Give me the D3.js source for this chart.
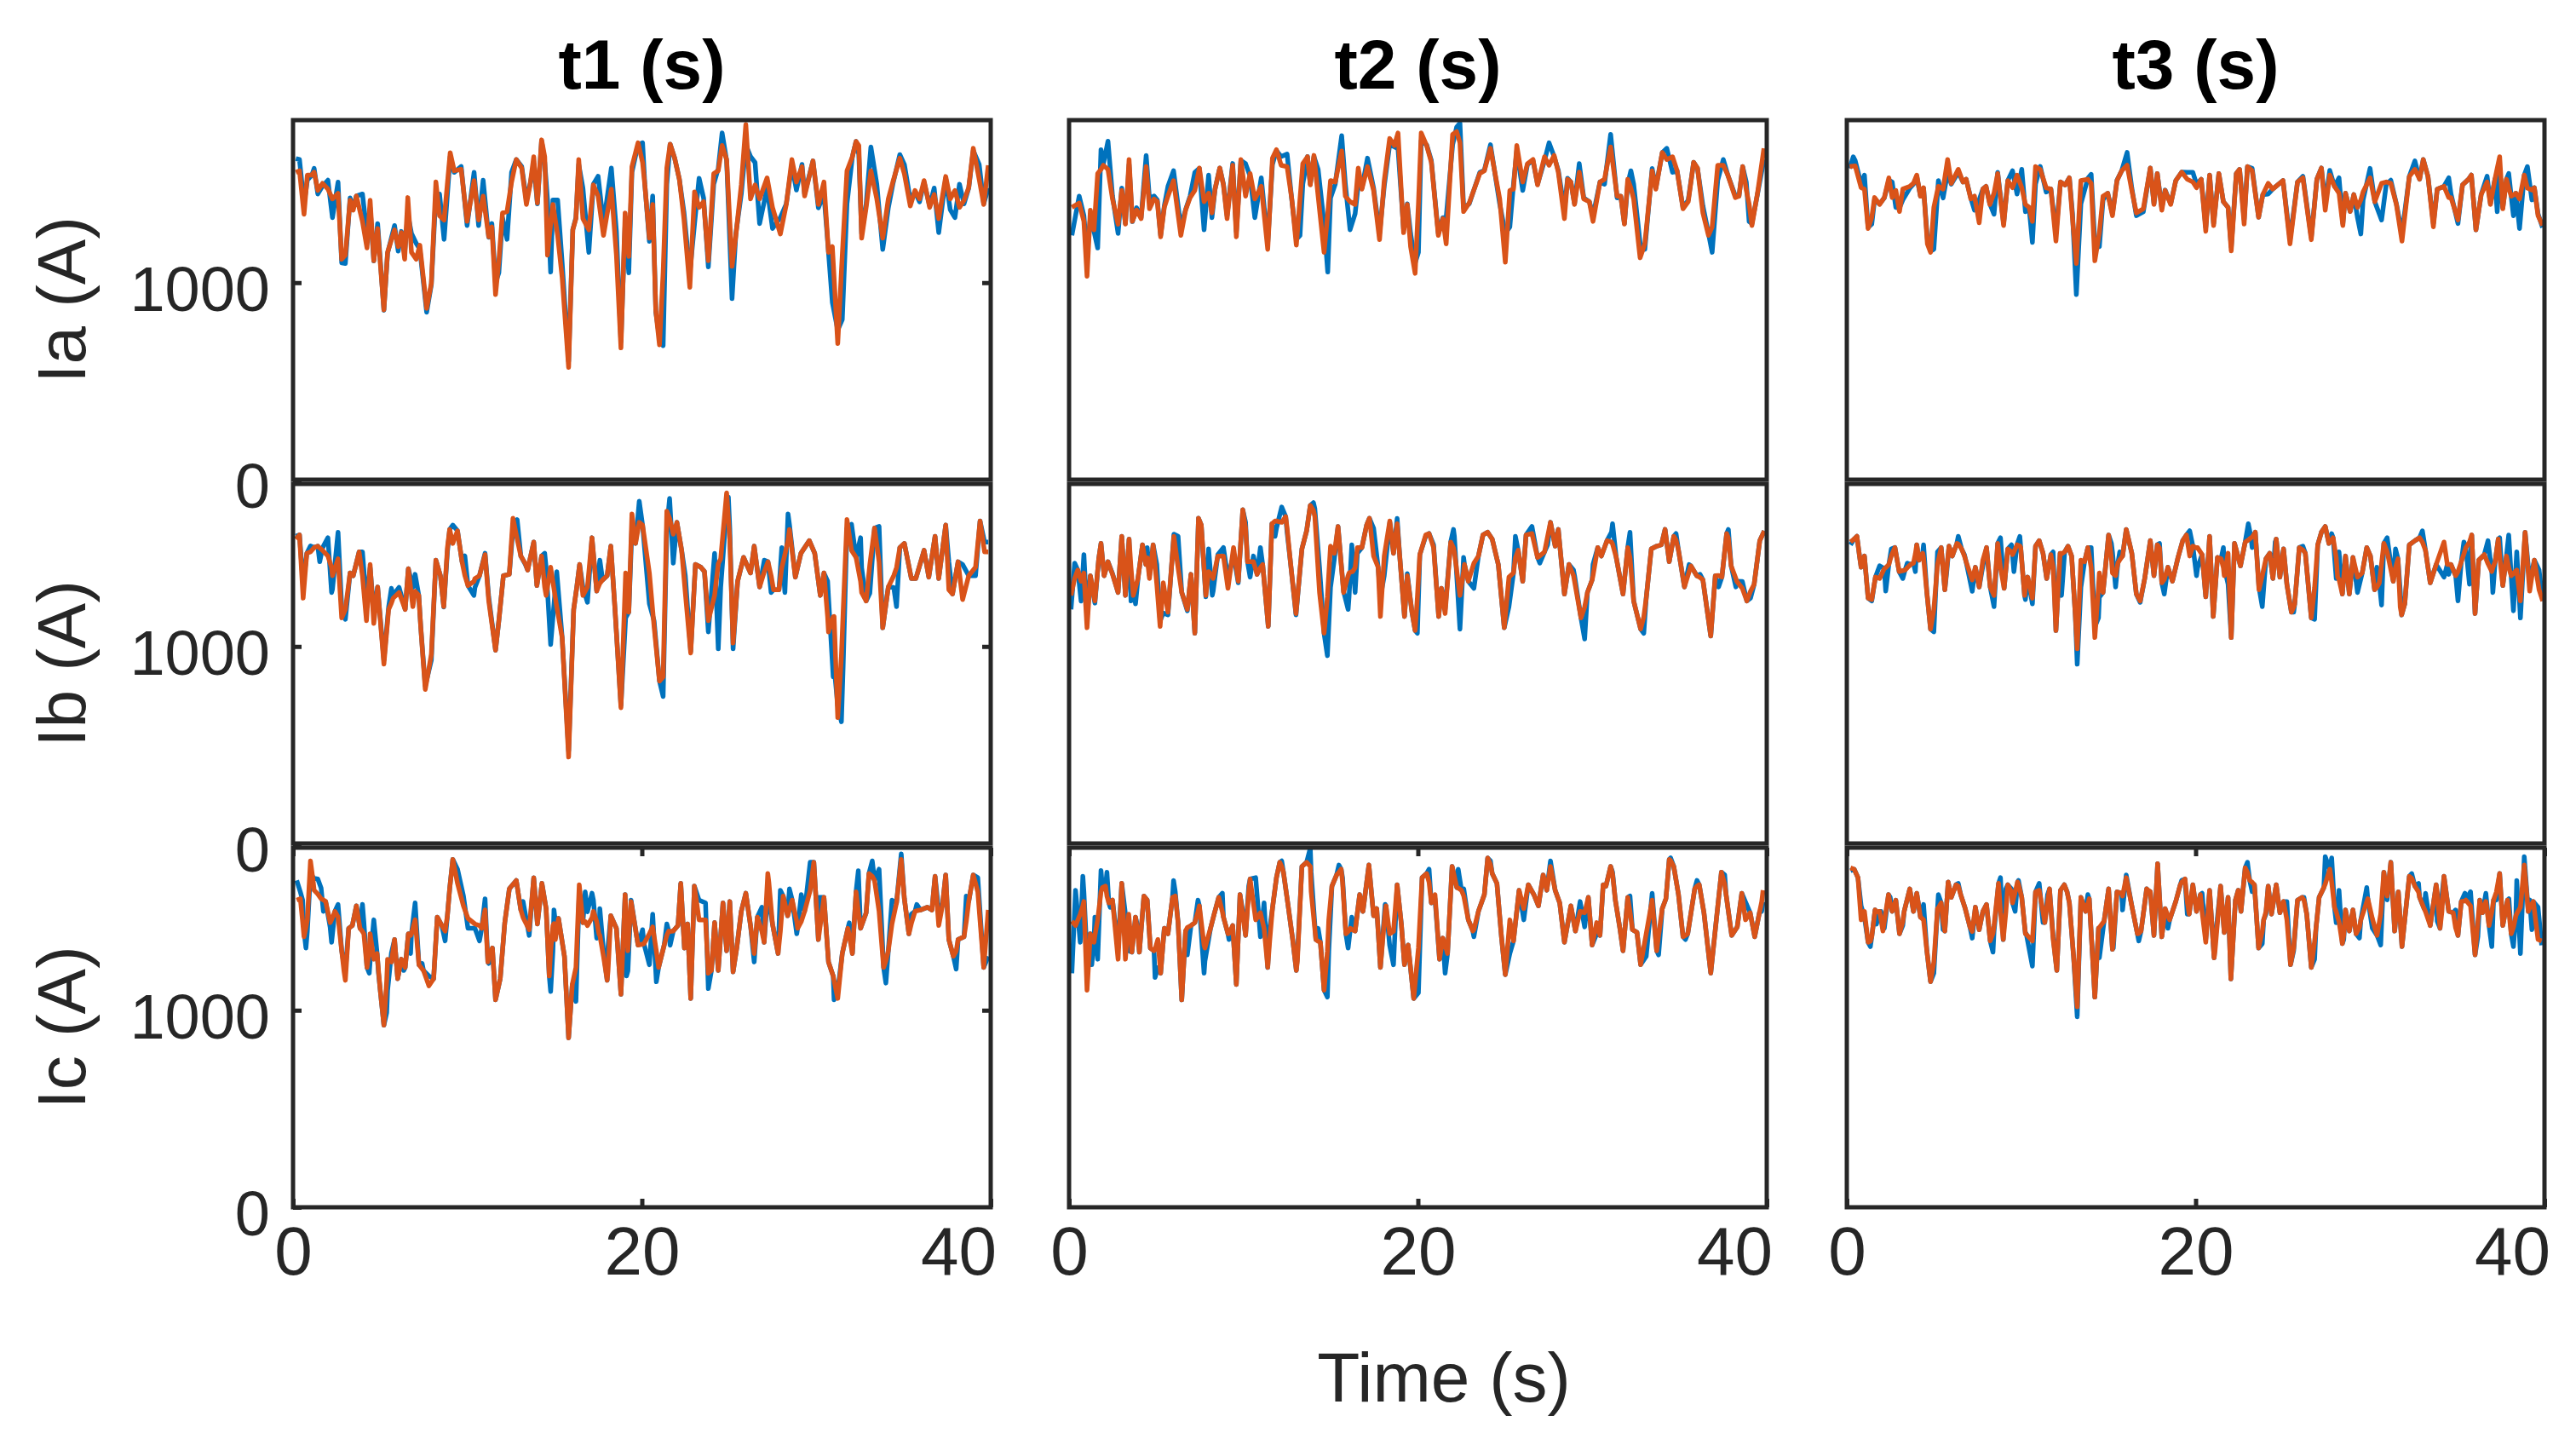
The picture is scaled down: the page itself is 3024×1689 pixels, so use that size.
<!DOCTYPE html>
<html>
<head>
<meta charset="utf-8">
<script src="https://cdn.jsdelivr.net/npm/d3@7"></script>
<style>
  html, body { margin: 0; padding: 0; background: #fff; }
  svg { display: block; }
  text { font-family: "Liberation Sans", Arial, Helvetica, sans-serif; }
</style>
</head>
<body>
<svg id="chart" width="3024" height="1689"></svg>
<script>
// phase currents, three test runs; blue = measured, orange = estimated

var ia1Time = [0.16,0.37,0.63,0.82,1.08,1.21,1.42,1.69,2.00,2.26,
  2.58,2.79,3.00,3.27,3.45,3.63,3.98,4.24,4.42,4.63,
  4.85,5.21,5.42,5.82,6.03,6.21,6.40,6.58,6.79,7.06,
  7.27,7.66,7.93,8.19,8.40,8.66,9.01,9.24,9.64,9.98,
  10.38,10.64,10.90,11.22,11.40,11.61,11.80,12.01,12.27,12.53,
  12.80,13.11,13.38,13.59,13.80,14.01,14.25,14.43,14.59,14.77,
  14.90,15.17,15.43,15.80,16.04,16.22,16.38,16.62,16.96,17.22,
  17.49,17.80,18.25,18.54,18.80,19.04,19.25,19.43,19.78,20.04,
  20.17,20.43,20.62,20.80,21.01,21.22,21.43,21.62,21.88,22.15,
  22.41,22.75,23.02,23.28,23.54,23.81,24.12,24.38,24.60,24.86,
  25.17,25.39,25.70,25.96,26.23,26.49,26.75,27.18,27.49,27.94,
  28.28,28.60,28.86,29.18,29.33,29.81,30.12,30.44,30.70,30.92,
  31.23,31.49,31.76,32.07,32.28,32.44,32.60,32.86,33.13,33.47,
  33.81,34.13,34.39,34.79,35.05,35.39,35.66,35.92,36.18,36.50,
  36.76,37.02,37.42,37.68,37.95,38.21,38.47,38.74,39.00,39.34,
  39.60,39.86];
var ia1Blue = [1630,1625,1400,1520,1546,1580,1450,1490,1520,1330,
  1510,1100,1097,1430,1380,1440,1450,1250,1380,1110,
  1300,860,1150,1290,1160,1260,1150,1350,1250,1200,
  1170,850,990,1450,1450,1220,1640,1560,1590,1290,
  1560,1290,1520,1230,1300,1000,1050,1330,1220,1560,
  1625,1590,1420,1500,1600,1400,1720,1610,1420,1054,
  1420,1420,1100,600,1270,1330,1600,1480,1154,1500,
  1540,1300,1582,1260,700,1300,1050,1560,1700,1710,
  1500,1210,1440,850,720,680,1500,1703,1632,1525,
  1360,1050,1300,1530,1430,1080,1500,1580,1760,1620,
  919,1250,1450,1700,1640,1610,1300,1480,1275,1330,
  1400,1600,1470,1600,1450,1618,1380,1450,1154,900,
  760,812,1400,1640,1717,1650,1250,1400,1689,1500,
  1169,1380,1500,1650,1600,1420,1460,1410,1510,1390,
  1480,1254,1530,1370,1330,1500,1400,1480,1670,1600,
  1400,1480];
var ia1Orange = [1560,1568,1347,1546,1546,1561,1468,1504,1475,1425,
  1453,1119,1140,1418,1368,1440,1311,1176,1418,1111,
  1275,862,1154,1268,1183,1254,1119,1432,1154,1119,
  1190,869,997,1511,1340,1318,1660,1568,1575,1311,
  1518,1318,1439,1233,1283,940,1111,1354,1361,1511,
  1625,1582,1397,1496,1639,1404,1725,1639,1140,1300,
  1397,1240,1026,570,1268,1325,1625,1325,1268,1496,
  1440,1240,1475,1140,669,1354,1133,1589,1710,1610,
  1496,1226,1397,855,684,1054,1582,1703,1632,1525,
  1325,976,1461,1382,1411,1111,1553,1568,1696,1625,
  1083,1240,1496,1803,1425,1496,1425,1532,1382,1247,
  1397,1625,1511,1589,1440,1618,1397,1511,1154,1183,
  691,1140,1568,1639,1717,1696,1226,1382,1568,1425,
  1226,1425,1511,1632,1553,1389,1468,1425,1518,1382,
  1447,1325,1539,1425,1468,1382,1418,1482,1682,1525,
  1397,1596];

var ia2Time = [0.16,0.58,0.85,1.03,1.22,1.43,1.64,1.83,1.96,2.23,
  2.49,2.81,3.02,3.23,3.44,3.63,3.87,4.13,4.42,4.61,
  4.87,5.06,5.25,5.46,5.67,5.99,6.41,6.68,6.94,7.21,
  7.47,7.74,8.00,8.19,8.37,8.64,8.85,9.06,9.38,9.59,
  9.85,10.12,10.38,10.65,11.02,11.39,11.66,11.89,12.16,12.50,
  12.77,13.03,13.24,13.40,13.67,13.83,14.04,14.28,14.62,14.83,
  14.99,15.26,15.63,15.84,16.11,16.40,16.58,16.79,17.11,17.46,
  17.80,18.07,18.38,18.65,18.86,19.18,19.39,19.58,19.84,20.03,
  20.19,20.50,20.77,21.17,21.43,21.62,21.99,22.22,22.41,22.62,
  22.94,23.55,23.81,24.16,24.69,25.01,25.27,25.48,25.67,26.01,
  26.28,26.60,26.86,27.26,27.52,27.81,28.05,28.40,28.58,28.77,
  28.98,29.25,29.51,29.83,30.04,30.44,30.70,31.05,31.42,31.63,
  31.84,32.03,32.21,32.37,32.74,33.01,33.43,33.64,34.01,34.27,
  34.60,34.86,35.20,35.50,35.81,36.03,36.34,36.66,36.87,37.19,
  37.51,37.77,38.20,38.41,38.62,38.83,38.99,39.15,39.47,39.84];
var ia2Blue = [1240,1439,1340,1140,1330,1260,1176,1675,1600,1718,
  1440,1250,1480,1300,1600,1310,1380,1330,1646,1425,
  1440,1420,1240,1390,1489,1568,1283,1370,1440,1560,
  1580,1268,1546,1330,1475,1582,1500,1340,1605,1260,
  1620,1604,1540,1330,1532,1200,1600,1670,1640,1653,
  1420,1220,1240,1500,1640,1500,1640,1575,1300,1054,
  1430,1500,1746,1500,1268,1350,1500,1480,1632,1480,
  1250,1490,1700,1690,1680,1270,1400,1250,1100,1154,
  1720,1700,1620,1250,1330,1330,1700,1789,1810,1380,
  1400,1560,1570,1700,1400,1250,1283,1500,1670,1468,
  1600,1620,1500,1620,1710,1640,1570,1370,1530,1511,
  1400,1604,1430,1411,1340,1511,1500,1753,1430,1439,
  1300,1500,1568,1500,1200,1169,1580,1480,1660,1682,
  1560,1568,1380,1420,1611,1580,1390,1250,1154,1520,
  1625,1546,1440,1439,1589,1510,1310,1300,1450,1625];
var ia2Orange = [1382,1404,1311,1033,1368,1268,1554,1575,1596,1575,
  1425,1297,1468,1297,1625,1311,1368,1325,1589,1375,
  1425,1411,1233,1382,1439,1518,1240,1368,1432,1468,
  1582,1411,1454,1354,1475,1582,1496,1325,1596,1233,
  1625,1439,1554,1425,1489,1169,1632,1675,1596,1589,
  1425,1190,1425,1604,1639,1496,1646,1439,1154,1350,
  1518,1511,1668,1439,1411,1397,1582,1475,1589,1468,
  1218,1518,1732,1696,1760,1254,1397,1183,1047,1400,
  1760,1696,1611,1240,1325,1197,1753,1767,1710,1361,
  1404,1554,1568,1682,1425,1104,1468,1475,1696,1511,
  1604,1625,1496,1639,1596,1646,1561,1325,1525,1511,
  1397,1561,1425,1411,1311,1511,1525,1689,1439,1439,
  1297,1525,1480,1425,1126,1197,1568,1475,1661,1625,
  1639,1568,1375,1411,1611,1582,1354,1240,1283,1596,
  1596,1546,1432,1439,1589,1468,1400,1290,1454,1682];

var ia3Time = [0.16,0.37,0.48,0.82,1.01,1.22,1.43,1.59,1.88,2.15,
  2.41,2.60,2.81,3.02,3.21,3.61,3.82,4.01,4.22,4.40,
  4.62,4.80,4.99,5.25,5.52,5.78,5.99,6.39,6.66,6.84,
  7.11,7.32,7.59,7.80,7.98,8.20,8.44,8.65,8.99,9.23,
  9.50,9.76,10.03,10.24,10.45,10.64,10.82,11.09,11.43,11.70,
  11.99,12.25,12.52,12.76,12.94,13.16,13.42,13.82,14.01,14.22,
  14.48,14.69,14.96,15.23,15.49,15.76,16.07,16.34,16.60,17.00,
  17.40,17.61,17.80,18.06,18.25,18.57,18.86,19.20,19.52,19.84,
  20.05,20.32,20.58,20.80,21.03,21.33,21.59,21.86,22.04,22.33,
  22.52,22.78,22.97,23.24,23.61,23.85,24.16,24.42,24.70,25.01,
  25.41,25.84,26.15,26.63,26.95,27.21,27.43,27.69,27.96,28.22,
  28.44,28.59,28.86,29.07,29.28,29.47,29.60,30.00,30.27,30.66,
  30.93,31.19,31.51,31.83,32.25,32.57,32.84,33.05,33.32,33.63,
  33.85,34.24,34.51,34.64,35.04,35.30,35.65,35.81,36.07,36.37,
  36.71,36.90,37.16,37.29,37.43,37.61,37.82,37.95,38.09,38.22,
  38.36,38.57,38.84,39.02,39.28,39.42,39.63,39.89];
var ia3Blue = [1580,1639,1620,1500,1546,1280,1297,1420,1400,1430,
  1520,1511,1382,1380,1420,1480,1500,1540,1440,1480,
  1220,1160,1169,1518,1430,1560,1500,1560,1511,1525,
  1430,1368,1420,1475,1489,1400,1347,1560,1300,1518,
  1568,1450,1575,1360,1382,1204,1500,1590,1460,1475,
  1250,1511,1496,1532,1350,940,1400,1530,1550,1200,
  1183,1420,1454,1350,1520,1568,1661,1480,1340,1360,
  1582,1400,1554,1380,1470,1400,1518,1561,1560,1560,
  1500,1525,1280,1546,1300,1554,1411,1382,1180,1554,
  1575,1320,1589,1580,1332,1447,1450,1475,1496,1518,
  1220,1511,1540,1230,1525,1582,1400,1570,1489,1532,
  1300,1454,1361,1447,1330,1247,1420,1580,1411,1318,
  1500,1520,1400,1250,1539,1618,1525,1625,1539,1300,
  1475,1489,1532,1450,1300,1496,1525,1546,1268,1447,
  1540,1400,1525,1360,1580,1380,1525,1554,1440,1340,
  1454,1275,1546,1589,1420,1482,1350,1280];
var ia3Orange = [1589,1592,1593,1482,1475,1275,1330,1432,1397,1432,
  1532,1432,1468,1361,1475,1489,1504,1546,1439,1482,
  1197,1154,1382,1489,1475,1625,1504,1575,1511,1525,
  1425,1439,1304,1475,1489,1397,1454,1554,1290,1518,
  1482,1546,1482,1397,1382,1311,1589,1575,1482,1475,
  1211,1511,1496,1532,1325,1097,1518,1525,1504,1111,
  1254,1439,1454,1340,1518,1568,1596,1468,1354,1375,
  1582,1397,1554,1368,1468,1397,1518,1561,1525,1511,
  1482,1525,1261,1546,1290,1554,1411,1382,1161,1554,
  1575,1297,1589,1568,1332,1447,1504,1475,1496,1518,
  1197,1511,1532,1218,1525,1582,1368,1546,1489,1454,
  1290,1454,1361,1447,1382,1420,1461,1532,1411,1504,
  1511,1504,1397,1211,1539,1575,1525,1625,1539,1283,
  1475,1489,1432,1432,1318,1496,1525,1546,1268,1447,
  1511,1397,1525,1580,1639,1375,1525,1480,1439,1445,
  1454,1425,1546,1480,1470,1482,1340,1290];

var ib1Time = [0.16,0.37,0.58,0.79,1.00,1.21,1.42,1.53,1.69,2.00,
  2.21,2.26,2.58,2.79,3.00,3.27,3.45,3.79,3.98,4.21,
  4.42,4.63,4.85,5.21,5.48,5.64,5.74,6.08,6.43,6.61,
  6.87,7.00,7.21,7.32,7.58,7.93,8.19,8.45,8.64,8.85,
  8.98,9.16,9.43,9.69,9.85,10.03,10.37,10.43,10.69,11.01,
  11.22,11.61,11.80,12.06,12.40,12.61,12.85,13.06,13.32,13.45,
  13.80,13.98,14.25,14.43,14.51,14.77,15.12,15.43,15.80,16.09,
  16.27,16.43,16.62,16.88,17.14,17.41,17.59,17.75,18.01,18.22,
  18.46,18.80,19.07,19.25,19.43,19.64,19.85,20.04,20.43,20.70,
  21.01,21.22,21.43,21.59,21.80,22.01,22.28,22.49,22.80,23.07,
  23.38,23.59,23.81,24.17,24.38,24.52,24.86,24.96,25.04,25.23,
  25.49,25.83,26.23,26.44,26.75,27.02,27.23,27.41,27.55,27.86,
  28.02,28.20,28.38,28.46,28.80,29.12,29.60,29.91,30.23,30.44,
  30.65,30.70,30.97,31.02,31.23,31.44,31.54,31.76,32.02,32.28,
  32.54,32.60,32.86,33.07,33.34,33.60,33.81,34.13,34.44,34.60,
  34.79,35.05,35.45,35.71,36.18,36.45,36.81,37.02,37.42,37.60,
  37.81,38.13,38.39,38.74,39.13,39.39,39.65,39.86];
var ib1Blue = [1560,1566,1316,1473,1510,1502,1509,1430,1500,1552,
  1274,1290,1580,1200,1138,1373,1359,1480,1480,1220,
  1400,1174,1302,930,1200,1295,1260,1300,1188,1395,
  1300,1366,1259,1102,800,930,1438,1359,1200,1480,
  1594,1616,1587,1430,1460,1309,1259,1300,1359,1473,
  1250,981,1131,1359,1366,1600,1644,1459,1416,1388,
  1530,1309,1459,1473,1400,1010,1380,1045,470,1188,
  1302,1416,1300,1224,1552,1281,1438,1338,1359,1509,
  1188,700,1145,1174,1600,1523,1737,1616,1217,1130,
  824,746,1600,1751,1423,1630,1488,1359,975,1416,
  1402,1380,1074,1473,988,1300,1700,1758,1600,988,
  1331,1452,1373,1509,1302,1438,1430,1274,1288,1288,
  1502,1274,1673,1620,1352,1473,1537,1473,1259,1373,
  1331,1250,846,900,700,618,900,1600,1620,1452,
  1552,1400,1231,1270,1601,1609,1095,1302,1300,1202,
  1502,1523,1345,1345,1488,1352,1559,1345,1616,1430,
  1266,1430,1416,1359,1359,1637,1530,1530];
var ib1Orange = [1545,1566,1245,1473,1480,1502,1509,1500,1488,1459,
  1400,1359,1445,1145,1188,1373,1359,1480,1359,1131,
  1416,1117,1302,910,1188,1220,1245,1274,1188,1395,
  1202,1280,1259,1100,782,960,1438,1359,1202,1500,
  1594,1523,1587,1430,1360,1309,1330,1345,1359,1466,
  1231,981,1131,1359,1366,1651,1545,1459,1420,1388,
  1530,1309,1459,1300,1259,1402,1202,1045,439,1188,
  1302,1416,1259,1302,1552,1281,1320,1338,1359,1509,
  1188,689,1373,1174,1673,1523,1630,1616,1373,1102,
  824,846,1687,1650,1570,1630,1488,1274,967,1416,
  1402,1380,1131,1259,1420,1445,1780,1650,1545,1017,
  1331,1452,1373,1509,1302,1380,1430,1360,1288,1288,
  1400,1466,1540,1594,1352,1473,1537,1473,1259,1373,
  1150,1074,1150,1152,639,950,1174,1644,1488,1452,
  1330,1274,1231,1416,1601,1430,1095,1302,1359,1400,
  1502,1523,1345,1345,1488,1352,1559,1345,1616,1288,
  1266,1430,1238,1359,1402,1637,1480,1480];

var ib2Time = [0.11,0.32,0.50,0.69,0.85,1.03,1.22,1.48,1.70,1.83,
  2.01,2.23,2.49,2.81,3.02,3.23,3.44,3.55,3.68,3.81,
  3.95,4.21,4.40,4.48,4.61,4.82,5.03,5.22,5.40,5.67,
  6.01,6.25,6.46,6.78,6.99,7.21,7.42,7.58,7.84,8.00,
  8.21,8.26,8.53,8.85,9.11,9.43,9.70,9.96,10.12,10.23,
  10.38,10.57,10.78,10.97,11.10,11.42,11.63,11.81,11.89,12.19,
  12.42,12.50,12.69,13.01,13.35,13.62,13.83,14.01,14.09,14.36,
  14.62,14.81,14.99,15.21,15.42,15.74,16.00,16.05,16.21,16.26,
  16.40,16.53,16.79,17.06,17.22,17.46,17.72,17.85,18.07,18.39,
  18.60,18.81,18.97,19.23,19.39,19.66,19.84,19.97,20.11,20.45,
  20.64,20.90,21.19,21.35,21.56,21.88,22.04,22.09,22.41,22.62,
  22.67,22.89,23.21,23.47,23.73,24.00,24.26,24.61,24.95,25.22,
  25.48,25.59,25.75,26.01,26.20,26.54,26.86,26.99,27.26,27.44,
  27.60,27.87,27.92,28.05,28.40,28.66,28.92,28.98,29.35,29.56,
  29.72,29.99,30.04,30.31,30.52,30.84,31.10,31.16,31.37,31.76,
  32.03,32.16,32.37,32.77,32.95,33.09,33.38,33.69,33.96,34.17,
  34.41,34.67,34.80,34.94,35.28,35.55,35.65,35.99,36.18,36.34,
  36.79,37.05,37.24,37.43,37.70,37.80,37.96,38.23,38.28,38.60,
  38.86,39.07,39.28,39.60,39.86];
var ib2Blue = [1188,1423,1388,1230,1466,1150,1359,1220,1445,1523,
  1359,1430,1370,1274,1559,1259,1545,1231,1300,1216,
  1345,1516,1416,1502,1360,1516,1416,1130,1170,1160,
  1570,1559,1274,1181,1366,1067,1651,1616,1252,1495,
  1260,1280,1466,1502,1345,1466,1323,1694,1630,1430,
  1352,1459,1366,1502,1416,1102,1623,1559,1600,1708,
  1659,1580,1430,1160,1495,1587,1716,1730,1700,1400,
  1067,953,1300,1445,1609,1280,1188,1250,1516,1450,
  1274,1473,1502,1616,1651,1600,1402,1250,1359,1630,
  1473,1650,1445,1152,1370,1174,1081,1067,1466,1560,
  1573,1516,1152,1295,1188,1530,1594,1560,1088,1452,
  1416,1331,1295,1459,1566,1580,1545,1416,1095,1202,
  1373,1559,1488,1331,1566,1609,1452,1423,1480,1516,
  1630,1509,1552,1594,1266,1416,1388,1360,1145,1038,
  1274,1338,1416,1502,1459,1537,1580,1623,1452,1266,
  1502,1580,1231,1088,1067,1245,1495,1509,1516,1594,
  1430,1559,1573,1488,1302,1416,1409,1359,1366,1338,
  1053,1359,1302,1352,1573,1594,1409,1302,1331,1330,
  1231,1245,1316,1537,1587];
var ib2Orange = [1259,1345,1388,1331,1373,1095,1359,1231,1445,1523,
  1359,1430,1366,1274,1559,1259,1545,1400,1259,1300,
  1345,1516,1416,1450,1345,1516,1316,1102,1323,1174,
  1559,1400,1274,1188,1366,1067,1651,1616,1259,1380,
  1360,1345,1459,1459,1295,1502,1331,1694,1600,1430,
  1430,1430,1366,1400,1416,1102,1623,1637,1637,1630,
  1659,1600,1430,1167,1495,1587,1716,1690,1659,1274,
  1067,1250,1509,1473,1609,1274,1360,1373,1380,1380,
  1400,1502,1502,1616,1651,1459,1402,1152,1459,1637,
  1473,1623,1445,1152,1359,1174,1081,1250,1466,1566,
  1573,1502,1152,1295,1167,1530,1500,1480,1259,1380,
  1416,1331,1423,1459,1566,1580,1545,1416,1095,1352,
  1373,1450,1488,1331,1566,1573,1452,1460,1480,1560,
  1630,1509,1530,1594,1266,1416,1360,1331,1145,1200,
  1274,1338,1360,1502,1459,1537,1530,1520,1452,1266,
  1502,1450,1231,1088,1150,1245,1495,1509,1516,1594,
  1430,1559,1540,1488,1302,1380,1409,1359,1350,1338,
  1053,1359,1360,1352,1573,1550,1409,1345,1331,1295,
  1231,1280,1316,1537,1587];

var ib3Time = [0.21,0.42,0.58,0.74,0.82,1.01,1.22,1.43,1.64,1.88,
  2.15,2.23,2.41,2.55,2.76,3.00,3.21,3.34,3.47,3.66,
  3.82,3.93,4.01,4.14,4.35,4.40,4.59,4.80,4.99,5.20,
  5.41,5.62,5.73,5.86,6.05,6.31,6.39,6.58,6.74,6.84,
  7.19,7.37,7.59,7.80,8.01,8.22,8.44,8.65,8.81,9.02,
  9.23,9.44,9.50,9.58,9.76,9.92,9.97,10.19,10.24,10.37,
  10.64,10.82,11.03,11.25,11.46,11.70,11.83,11.99,12.23,12.31,
  12.49,12.68,12.89,13.10,13.21,13.42,13.63,13.82,14.01,14.22,
  14.43,14.48,14.69,15.01,15.17,15.23,15.41,15.54,15.65,15.81,
  16.02,16.34,16.60,16.82,17.08,17.40,17.61,17.80,17.93,18.06,
  18.20,18.41,18.67,18.99,19.26,19.47,19.66,19.84,20.05,20.11,
  20.37,20.58,20.80,21.01,21.25,21.46,21.59,21.64,21.86,22.04,
  22.23,22.57,22.84,23.02,23.18,23.24,23.42,23.63,23.82,24.03,
  24.25,24.43,24.56,24.62,24.83,25.04,25.23,25.49,25.62,25.68,
  25.94,26.15,26.29,26.63,26.82,27.00,27.21,27.43,27.64,27.80,
  27.88,28.06,28.14,28.22,28.41,28.59,28.81,29.02,29.28,29.55,
  29.81,30.02,30.26,30.39,30.53,30.66,30.79,30.98,31.33,31.46,
  31.60,31.73,31.81,31.99,32.25,32.57,32.84,33.00,33.18,33.45,
  33.79,34.24,34.43,34.51,34.64,34.91,35.04,35.23,35.38,35.49,
  35.70,35.83,36.02,36.23,36.55,36.76,36.98,37.04,37.17,37.35,
  37.43,37.61,37.82,37.95,38.09,38.22,38.41,38.62,38.89,39.15,
  39.42,39.69,39.90];
var ib3Blue = [1516,1545,1559,1452,1402,1459,1245,1231,1352,1409,
  1395,1281,1416,1495,1502,1380,1345,1388,1423,1416,
  1423,1380,1516,1438,1473,1516,1274,1088,1074,1480,
  1502,1288,1380,1509,1459,1523,1559,1495,1466,1430,
  1280,1402,1302,1409,1502,1302,1202,1523,1552,1295,
  1495,1516,1466,1380,1516,1559,1502,1259,1238,1352,
  1216,1509,1537,1473,1345,1466,1480,1081,1473,1259,
  1480,1509,1459,1160,910,1300,1430,1502,1502,1100,
  1145,1250,1274,1566,1523,1480,1302,1423,1480,1459,
  1594,1473,1266,1224,1345,1537,1359,1516,1523,1323,
  1266,1402,1331,1452,1537,1566,1587,1509,1359,1400,
  1466,1252,1559,1152,1452,1445,1502,1400,1316,1045,
  1523,1409,1530,1623,1552,1502,1580,1300,1202,1445,
  1473,1345,1530,1545,1352,1495,1316,1174,1174,1216,
  1502,1509,1473,1145,1138,1516,1580,1609,1523,1573,
  1552,1345,1352,1480,1266,1459,1266,1452,1274,1373,
  1502,1459,1288,1402,1323,1210,1523,1552,1331,1495,
  1445,1281,1160,1216,1516,1537,1552,1587,1487,1323,
  1416,1352,1416,1366,1416,1359,1231,1430,1530,1502,
  1316,1566,1167,1438,1466,1537,1380,1274,1430,1545,
  1552,1309,1459,1566,1359,1181,1480,1145,1580,1330,
  1438,1388,1231];
var ib3Orange = [1530,1545,1559,1450,1402,1459,1245,1238,1352,1345,
  1395,1400,1416,1460,1502,1380,1385,1388,1400,1416,
  1423,1470,1516,1438,1473,1450,1274,1088,1188,1416,
  1502,1288,1400,1509,1459,1523,1520,1495,1460,1430,
  1338,1402,1302,1438,1502,1302,1259,1523,1400,1295,
  1495,1480,1466,1480,1516,1510,1502,1259,1300,1352,
  1245,1509,1537,1473,1345,1466,1400,1081,1473,1470,
  1480,1509,1459,1160,988,1438,1430,1502,1400,1045,
  1300,1373,1274,1566,1450,1373,1360,1423,1440,1459,
  1594,1473,1266,1231,1345,1537,1359,1516,1500,1323,
  1340,1402,1331,1452,1537,1566,1459,1509,1500,1502,
  1466,1252,1559,1152,1452,1445,1400,1359,1473,1045,
  1523,1409,1530,1540,1552,1555,1580,1288,1360,1445,
  1473,1345,1450,1545,1352,1495,1316,1174,1200,1216,
  1502,1490,1473,1145,1300,1516,1580,1609,1523,1540,
  1552,1450,1352,1340,1266,1459,1266,1452,1352,1373,
  1502,1459,1288,1300,1323,1420,1523,1480,1331,1400,
  1445,1200,1160,1216,1516,1537,1552,1530,1487,1323,
  1416,1530,1416,1416,1416,1359,1380,1430,1470,1502,
  1530,1566,1167,1438,1466,1420,1380,1400,1430,1545,
  1460,1309,1459,1400,1359,1370,1388,1231,1580,1281,
  1438,1288,1231];

var ic1Time = [0.21,0.42,0.55,0.63,0.74,0.82,1.00,1.16,1.21,1.42,
  1.61,1.74,1.87,2.13,2.21,2.40,2.58,2.79,2.92,3.00,
  3.19,3.40,3.63,3.84,3.98,4.06,4.24,4.37,4.42,4.63,
  4.82,4.90,5.00,5.21,5.37,5.42,5.64,5.82,6.00,6.21,
  6.35,6.43,6.61,6.74,6.79,7.00,7.22,7.40,7.48,7.79,
  8.06,8.27,8.53,8.72,8.85,8.98,9.16,9.43,9.77,10.03,
  10.43,10.69,10.82,11.01,11.17,11.22,11.43,11.61,11.88,12.14,
  12.40,12.53,12.80,13.06,13.19,13.54,13.80,14.01,14.27,14.51,
  14.69,14.77,14.90,14.96,15.04,15.22,15.56,15.80,16.01,16.22,
  16.41,16.62,16.75,16.88,17.14,17.22,17.41,17.54,17.59,17.80,
  18.01,18.06,18.22,18.54,18.80,19.04,19.12,19.20,19.38,19.78,
  20.04,20.12,20.43,20.62,20.83,20.96,21.28,21.43,21.54,21.62,
  21.80,22.07,22.23,22.44,22.62,22.80,23.01,23.28,23.65,23.81,
  23.99,24.17,24.38,24.65,24.86,25.04,25.23,25.44,25.70,25.96,
  26.23,26.44,26.62,26.88,27.01,27.22,27.28,27.49,27.81,27.94,
  28.10,28.36,28.46,28.62,28.88,28.93,29.14,29.33,29.65,29.86,
  30.12,30.18,30.44,30.70,30.97,31.02,31.23,31.49,31.81,31.89,
  32.07,32.28,32.41,32.54,32.86,33.02,33.21,33.34,33.60,33.86,
  33.99,34.13,34.34,34.60,34.87,35.05,35.31,35.45,35.66,35.76,
  35.97,36.37,36.63,36.81,37.02,37.23,37.42,37.60,37.86,38.02,
  38.13,38.47,38.60,38.74,39.00,39.26,39.60,39.86];
var ic1Blue = [1659,1600,1559,1400,1316,1400,1700,1673,1670,1666,
  1620,1502,1552,1420,1345,1502,1537,1302,1231,1200,
  1416,1430,1530,1416,1537,1450,1217,1188,1250,1459,
  1288,1188,1102,924,988,1100,1290,1359,1160,1259,
  1202,1217,1388,1288,1388,1545,1231,1238,1202,1174,
  1160,1473,1430,1352,1480,1616,1766,1716,1580,1416,
  1416,1352,1416,1566,1245,1238,1316,1053,1160,1445,
  1616,1630,1659,1509,1552,1380,1673,1438,1644,1516,
  1174,1095,1300,1509,1450,1466,1274,860,1131,1045,
  1600,1445,1601,1500,1594,1560,1366,1380,1516,1300,
  1152,1323,1480,1416,1081,1587,1174,1200,1559,1331,
  1409,1338,1231,1488,1145,1217,1331,1438,1402,1330,
  1402,1430,1644,1316,1438,1060,1630,1559,1545,1110,
  1202,1445,1202,1545,1302,1552,1195,1316,1502,1594,
  1430,1245,1473,1523,1345,1600,1559,1438,1288,1609,
  1580,1480,1616,1559,1388,1416,1587,1502,1751,1751,
  1359,1573,1573,1245,1174,1053,1100,1288,1416,1444,
  1288,1601,1708,1416,1495,1694,1758,1659,1716,1217,
  1138,1302,1559,1545,1794,1566,1388,1488,1502,1537,
  1509,1523,1509,1680,1502,1530,1687,1359,1274,1209,
  1359,1373,1580,1552,1687,1673,1217,1274];
var ic1Orange = [1559,1566,1450,1373,1420,1459,1758,1650,1609,1590,
  1566,1560,1552,1445,1460,1502,1473,1302,1200,1152,
  1416,1430,1530,1416,1400,1388,1217,1300,1388,1259,
  1288,1200,1102,924,1150,1259,1245,1359,1160,1259,
  1230,1217,1388,1380,1388,1459,1231,1210,1202,1124,
  1160,1473,1430,1402,1480,1616,1766,1644,1530,1466,
  1438,1430,1416,1509,1245,1270,1316,1053,1160,1445,
  1616,1630,1659,1509,1470,1409,1673,1438,1644,1516,
  1174,1300,1430,1440,1359,1466,1274,860,1131,1217,
  1637,1445,1450,1430,1470,1502,1450,1388,1380,1274,
  1152,1200,1480,1416,1081,1587,1400,1302,1552,1331,
  1335,1338,1388,1423,1300,1217,1331,1380,1402,1400,
  1402,1430,1644,1316,1438,1060,1630,1459,1459,1188,
  1202,1445,1202,1545,1302,1552,1195,1316,1502,1594,
  1430,1288,1473,1400,1345,1694,1650,1438,1288,1400,
  1580,1480,1510,1559,1450,1416,1450,1502,1609,1751,
  1359,1400,1573,1245,1174,1150,1060,1288,1416,1380,
  1288,1601,1500,1416,1495,1694,1680,1659,1502,1217,
  1250,1302,1438,1545,1766,1566,1388,1440,1502,1505,
  1509,1523,1509,1680,1430,1530,1687,1359,1274,1300,
  1359,1373,1450,1552,1687,1601,1217,1509];

var ic2Time = [0.16,0.37,0.64,0.79,0.85,1.03,1.22,1.30,1.43,1.48,
  1.64,1.83,1.91,2.09,2.17,2.28,2.36,2.49,2.81,3.02,
  3.23,3.42,3.60,3.81,3.95,4.03,4.29,4.48,4.66,4.87,
  4.93,5.09,5.25,5.46,5.67,5.93,5.99,6.09,6.25,6.46,
  6.68,6.78,6.99,7.21,7.39,7.47,7.74,7.79,8.11,8.32,
  8.58,8.79,8.85,9.11,9.17,9.38,9.59,9.80,10.01,10.12,
  10.30,10.38,10.70,10.97,11.18,11.39,11.50,11.66,11.89,12.08,
  12.19,12.29,12.56,12.82,13.03,13.09,13.35,13.62,13.83,13.88,
  14.15,14.28,14.41,14.62,14.81,14.89,15.07,15.34,15.47,15.60,
  15.68,15.87,16.00,16.13,16.21,16.40,16.66,16.85,17.19,17.46,
  17.64,17.85,18.12,18.17,18.38,18.60,18.81,19.05,19.23,19.44,
  19.76,20.03,20.24,20.50,20.64,20.77,20.98,21.24,21.43,21.56,
  21.70,21.96,22.23,22.31,22.50,22.63,22.89,23.15,23.21,23.47,
  23.81,24.00,24.16,24.26,24.53,24.79,25.01,25.27,25.48,25.80,
  26.07,26.33,26.65,26.91,27.18,27.39,27.60,27.87,28.13,28.40,
  28.77,29.03,29.30,29.56,29.77,29.99,30.25,30.44,30.62,30.78,
  31.05,31.16,31.32,31.58,31.76,32.03,32.16,32.30,32.56,32.77,
  33.09,33.43,33.69,33.80,34.01,34.22,34.41,34.49,34.67,34.94,
  35.20,35.34,35.47,35.87,36.00,36.13,36.40,36.79,37.06,37.40,
  37.59,37.67,37.99,38.31,38.57,38.78,39.05,39.31,39.58,39.71,
  39.79];
var ic2Blue = [1188,1609,1345,1680,1600,1274,1388,1231,1345,1473,
  1259,1709,1623,1630,1701,1545,1523,1559,1316,1644,
  1488,1302,1295,1473,1416,1295,1580,1559,1316,1302,
  1167,1216,1188,1416,1388,1573,1659,1600,1445,1053,
  1402,1281,1430,1445,1559,1530,1188,1250,1416,1488,
  1573,1594,1473,1388,1359,1430,1131,1587,1473,1380,
  1630,1666,1673,1373,1545,1217,1416,1516,1673,1751,
  1758,1701,1530,1359,1202,1274,1730,1751,1823,1700,
  1359,1416,1345,1102,1067,1300,1630,1687,1737,1716,
  1673,1388,1316,1416,1473,1402,1587,1502,1737,1480,
  1516,1217,1537,1530,1330,1231,1637,1438,1231,1331,
  1060,1089,1673,1694,1716,1545,1566,1259,1366,1188,
  1288,1730,1623,1716,1609,1616,1459,1402,1373,1502,
  1587,1773,1758,1694,1644,1373,1181,1288,1352,1609,
  1459,1637,1587,1530,1687,1609,1758,1609,1545,1345,
  1530,1402,1552,1423,1573,1331,1388,1380,1637,1630,
  1730,1701,1559,1416,1302,1573,1580,1409,1395,1231,
  1274,1594,1302,1281,1516,1566,1766,1773,1730,1587,
  1373,1359,1388,1616,1659,1637,1495,1188,1416,1701,
  1687,1587,1380,1423,1594,1550,1495,1373,1495,1502,
  1550];
var ic2Orange = [1452,1430,1488,1530,1552,1102,1388,1350,1345,1380,
  1459,1600,1623,1630,1580,1545,1550,1559,1259,1644,
  1259,1488,1295,1473,1380,1295,1580,1559,1316,1302,
  1310,1359,1188,1416,1388,1573,1575,1580,1445,1053,
  1402,1420,1430,1445,1500,1530,1330,1316,1416,1488,
  1573,1500,1473,1388,1390,1430,1131,1587,1450,1380,
  1600,1666,1459,1495,1416,1217,1350,1516,1673,1751,
  1730,1701,1530,1359,1202,1250,1730,1751,1730,1602,
  1359,1350,1345,1102,1300,1459,1630,1687,1700,1716,
  1650,1388,1400,1416,1410,1402,1587,1502,1737,1480,
  1516,1217,1500,1530,1388,1400,1637,1438,1231,1331,
  1060,1316,1673,1694,1650,1545,1587,1259,1366,1330,
  1288,1730,1623,1620,1609,1580,1459,1402,1410,1502,
  1587,1773,1740,1694,1644,1373,1181,1459,1352,1609,
  1516,1637,1587,1530,1687,1609,1730,1609,1545,1345,
  1530,1402,1502,1495,1573,1331,1445,1380,1637,1630,
  1730,1690,1559,1416,1302,1573,1500,1409,1395,1231,
  1388,1559,1302,1380,1516,1566,1766,1760,1730,1587,
  1373,1380,1388,1616,1630,1637,1495,1188,1416,1701,
  1640,1587,1380,1423,1594,1459,1495,1373,1495,1550,
  1609];

var ic3Time = [0.21,0.42,0.64,0.82,1.01,1.22,1.35,1.43,1.62,1.70,
  1.88,1.96,2.07,2.15,2.39,2.49,2.60,2.81,3.02,3.21,
  3.29,3.61,3.82,4.01,4.22,4.40,4.59,4.80,4.99,5.20,
  5.25,5.41,5.52,5.62,5.81,5.99,6.26,6.39,6.53,6.79,
  7.06,7.19,7.37,7.59,7.80,8.01,8.22,8.38,8.44,8.70,
  8.81,8.97,9.12,9.23,9.44,9.50,9.65,9.79,9.84,10.03,
  10.24,10.29,10.64,10.82,11.03,11.25,11.35,11.51,11.62,11.83,
  12.04,12.25,12.47,12.63,12.76,13.00,13.21,13.42,13.69,13.82,
  13.90,14.22,14.43,14.48,14.75,15.01,15.23,15.28,15.49,15.76,
  15.81,16.02,16.34,16.66,16.74,16.87,17.19,17.27,17.40,17.61,
  17.82,18.06,18.25,18.41,18.51,18.86,19.12,19.20,19.39,19.52,
  19.63,19.84,20.05,20.27,20.37,20.58,20.80,21.06,21.11,21.43,
  21.64,21.86,22.02,22.28,22.44,22.60,22.84,22.97,23.10,23.24,
  23.37,23.61,23.82,23.90,24.03,24.16,24.35,24.62,24.83,25.04,
  25.23,25.44,25.62,25.84,26.10,26.21,26.37,26.63,26.82,26.90,
  27.08,27.35,27.43,27.69,27.80,27.96,28.06,28.14,28.22,28.41,
  28.49,28.59,28.81,29.02,29.20,29.39,29.47,29.81,29.87,30.13,
  30.40,30.61,30.79,30.98,31.19,31.41,31.62,31.83,32.25,32.39,
  32.57,32.78,32.84,33.10,33.18,33.45,33.79,33.85,34.01,34.12,
  34.24,34.51,34.77,34.90,35.04,35.23,35.44,35.49,35.76,36.02,
  36.18,36.29,36.45,36.64,36.82,36.98,37.08,37.24,37.43,37.61,
  37.88,37.96,38.09,38.22,38.36,38.41,38.62,38.84,39.07,39.15,
  39.28,39.36,39.63,39.84];
var ic3Blue = [1709,1716,1673,1530,1473,1345,1323,1373,1509,1437,
  1502,1502,1416,1416,1587,1573,1502,1559,1388,1430,
  1502,1616,1502,1594,1473,1537,1302,1145,1188,1516,
  1587,1545,1409,1402,1651,1573,1637,1644,1587,1516,
  1423,1366,1523,1409,1502,1537,1352,1295,1400,1644,
  1673,1359,1616,1637,1616,1545,1502,1651,1659,1573,
  1388,1388,1224,1601,1644,1445,1445,1587,1616,1373,
  1202,1609,1637,1602,1545,1274,967,1573,1502,1587,
  1566,1067,1416,1266,1452,1616,1309,1316,1601,1594,
  1509,1687,1530,1388,1352,1402,1616,1594,1602,1380,
  1744,1373,1516,1416,1459,1552,1637,1659,1666,1488,
  1488,1637,1502,1587,1594,1360,1609,1266,1345,1630,
  1395,1573,1159,1559,1609,1502,1723,1751,1659,1602,
  1637,1316,1338,1459,1488,1630,1488,1637,1495,1552,
  1552,1231,1302,1559,1573,1573,1488,1217,1259,1416,
  1573,1623,1780,1716,1773,1523,1444,1473,1609,1338,
  1359,1509,1402,1509,1388,1366,1459,1623,1566,1416,
  1380,1331,1701,1560,1751,1402,1601,1323,1680,1694,
  1630,1644,1573,1516,1594,1430,1637,1452,1416,1580,
  1680,1502,1495,1509,1380,1552,1594,1559,1602,1281,
  1374,1559,1495,1594,1430,1323,1559,1559,1694,1430,
  1559,1566,1388,1323,1480,1659,1288,1780,1502,1560,
  1409,1552,1523,1330];
var ic3Orange = [1723,1716,1673,1459,1502,1345,1350,1373,1509,1500,
  1502,1460,1402,1450,1587,1540,1502,1559,1388,1450,
  1502,1616,1502,1594,1473,1459,1302,1145,1245,1516,
  1520,1545,1450,1402,1651,1573,1637,1630,1587,1516,
  1423,1400,1523,1409,1502,1537,1352,1390,1430,1644,
  1500,1359,1500,1637,1600,1545,1600,1651,1640,1573,
  1388,1385,1352,1601,1609,1500,1445,1550,1616,1359,
  1202,1609,1637,1600,1545,1274,1017,1573,1502,1540,
  1566,1067,1416,1420,1452,1616,1309,1350,1601,1594,
  1580,1673,1530,1388,1390,1402,1616,1610,1602,1380,
  1744,1373,1516,1480,1459,1552,1637,1650,1666,1550,
  1488,1637,1502,1587,1500,1345,1609,1266,1300,1630,
  1395,1573,1159,1559,1609,1502,1723,1700,1659,1650,
  1637,1316,1400,1459,1500,1630,1488,1637,1495,1552,
  1459,1231,1316,1559,1573,1560,1488,1217,1350,1416,
  1573,1623,1640,1716,1650,1523,1500,1473,1450,1338,
  1380,1509,1402,1509,1388,1420,1459,1550,1566,1466,
  1380,1488,1701,1580,1751,1402,1601,1323,1680,1670,
  1630,1600,1573,1516,1500,1430,1637,1600,1416,1500,
  1680,1502,1495,1420,1380,1552,1555,1559,1530,1281,
  1450,1559,1495,1552,1430,1500,1559,1600,1694,1430,
  1559,1500,1388,1420,1480,1490,1523,1737,1502,1520,
  1540,1552,1359,1352];

var colTitles = ["t1 (s)", "t2 (s)", "t3 (s)"];
var rowLabels = ["Ia (A)", "Ib (A)", "Ic (A)"];
var yTickValues = [0, 1000];
var xTickValues = [0, 20, 40];

var panels = [
  {row: 0, col: 0, t: ia1Time, blue: ia1Blue, orange: ia1Orange},
  {row: 0, col: 1, t: ia2Time, blue: ia2Blue, orange: ia2Orange},
  {row: 0, col: 2, t: ia3Time, blue: ia3Blue, orange: ia3Orange},
  {row: 1, col: 0, t: ib1Time, blue: ib1Blue, orange: ib1Orange},
  {row: 1, col: 1, t: ib2Time, blue: ib2Blue, orange: ib2Orange},
  {row: 1, col: 2, t: ib3Time, blue: ib3Blue, orange: ib3Orange},
  {row: 2, col: 0, t: ic1Time, blue: ic1Blue, orange: ic1Orange},
  {row: 2, col: 1, t: ic2Time, blue: ic2Blue, orange: ic2Orange},
  {row: 2, col: 2, t: ic3Time, blue: ic3Blue, orange: ic3Orange}
];

var W = 3024, H = 1689,
  colLeft = [344, 1255, 2168],
  rowTop = [141, 568, 995],
  pw = 819, ph = 422,
  axisColor = "#262626",
  blueColor = "#0072BD",
  orangeColor = "#D95319";

var svg = d3.select("#chart");
svg.append("rect").attr("width", W).attr("height", H).attr("fill", "#fff");

var x = d3.scaleLinear().domain([0, 40]).range([0, pw]);
var y = d3.scaleLinear().domain([0, 1825]).range([ph, 0]);
var fmt = d3.format("d");

function styleAxis(sel, size) {
  sel.attr("font-family", null).attr("font-size", null).attr("color", axisColor);
  sel.select(".domain").remove();
  sel.selectAll(".tick line").attr("stroke-width", 5);
  sel.selectAll(".tick text")
    .style("font-size", size + "px")
    .attr("fill", axisColor);
}

panels.forEach(function (p, i) {
  var g = svg.append("g")
    .attr("transform", "translate(" + colLeft[p.col] + "," + rowTop[p.row] + ")");

  g.append("clipPath").attr("id", "clip" + i)
    .append("rect").attr("width", pw).attr("height", ph);

  var n = Math.min(p.t.length, p.blue.length, p.orange.length);
  var pts = d3.range(n).map(function (k) {
    return {t: p.t[k], b: p.blue[k], o: p.orange[k]};
  });

  var lineB = d3.line().x(function (d) { return x(d.t); }).y(function (d) { return y(d.b); });
  var lineO = d3.line().x(function (d) { return x(d.t); }).y(function (d) { return y(d.o); });

  var plot = g.append("g").attr("clip-path", "url(#clip" + i + ")");
  plot.append("path").datum(pts)
    .attr("d", lineB)
    .attr("fill", "none")
    .attr("stroke", blueColor)
    .attr("stroke-width", 5.5)
    .attr("stroke-linejoin", "round");
  plot.append("path").datum(pts)
    .attr("d", lineO)
    .attr("fill", "none")
    .attr("stroke", orangeColor)
    .attr("stroke-width", 5.5)
    .attr("stroke-linejoin", "round");

  if (p.col === 0) {
    var yl = g.append("g")
      .call(d3.axisLeft(y).tickValues(yTickValues).tickFormat(fmt)
        .tickSizeInner(-10).tickSizeOuter(0).tickPadding(27));
    styleAxis(yl, 74);
    yl.selectAll(".tick text").attr("dy", "0.44em");
    var yr = g.append("g").attr("transform", "translate(" + pw + ",0)")
      .call(d3.axisRight(y).tickValues([1000]).tickSizeInner(-10).tickSizeOuter(0).tickFormat(""));
    styleAxis(yr, 74);
  }

  if (p.row === 2) {
    var xb = g.append("g").attr("transform", "translate(0," + ph + ")")
      .call(d3.axisBottom(x).tickValues(xTickValues).tickFormat(fmt)
        .tickSizeInner(-10).tickSizeOuter(0).tickPadding(22));
    styleAxis(xb, 80);
    xb.selectAll(".tick text").filter(function (d) { return d === 40; }).attr("x", -38);
    var xt = g.append("g")
      .call(d3.axisTop(x).tickValues(xTickValues).tickSizeInner(-10).tickSizeOuter(0).tickFormat(""));
    styleAxis(xt, 80);
  }

  g.append("rect")
    .attr("width", pw).attr("height", ph)
    .attr("fill", "none")
    .attr("stroke", axisColor)
    .attr("stroke-width", 5);
});

colTitles.forEach(function (s, c) {
  svg.append("text")
    .attr("x", colLeft[c] + pw / 2)
    .attr("y", 104)
    .attr("text-anchor", "middle")
    .attr("font-weight", "bold")
    .attr("font-size", 82)
    .attr("fill", "#000")
    .text(s);
});

rowLabels.forEach(function (s, r) {
  svg.append("text")
    .attr("transform", "translate(100," + (rowTop[r] + ph / 2) + ") rotate(-90)")
    .attr("text-anchor", "middle")
    .attr("font-size", 80)
    .attr("fill", axisColor)
    .text(s);
});

svg.append("text")
  .attr("x", 1695)
  .attr("y", 1645)
  .attr("text-anchor", "middle")
  .attr("font-size", 82)
  .attr("fill", axisColor)
  .text("Time (s)");
</script>
</body>
</html>
